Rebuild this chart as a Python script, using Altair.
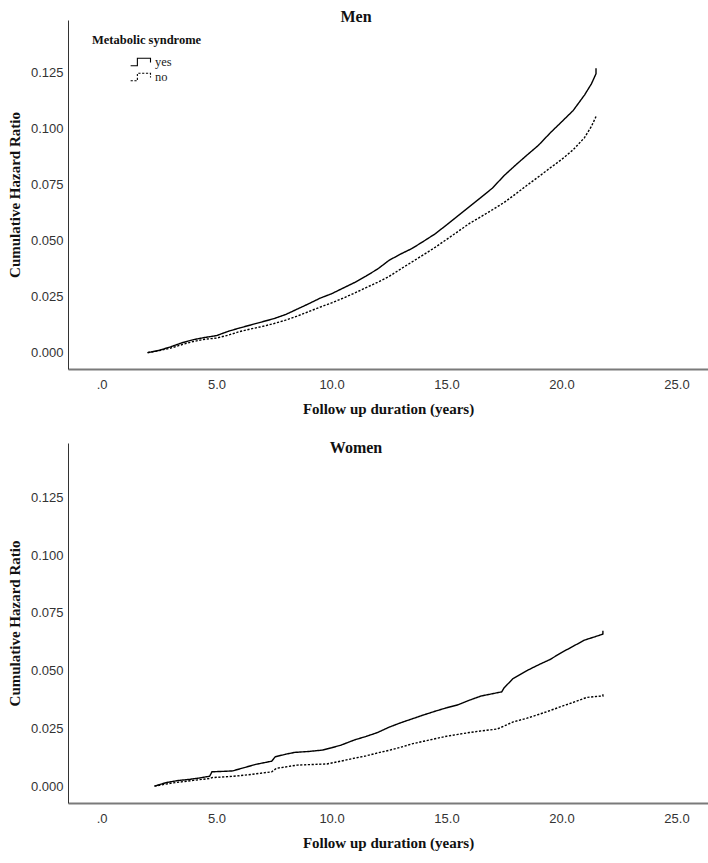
import altair as alt
import pandas as pd

# Cumulative hazard by follow-up time (years), men
men_yes_t = [2.0, 2.5, 3.0, 3.5, 4.0, 4.5, 5.0, 5.5, 6.0, 6.5, 7.0, 7.5, 8.0, 8.5, 9.0,
             9.5, 10.0, 10.5, 11.0, 11.5, 12.0, 12.5, 13.0, 13.5, 14.0, 14.5, 15.0, 15.5,
             16.0, 16.5, 17.0, 17.5, 18.0, 18.5, 19.0, 19.5, 20.0, 20.5, 21.0, 21.3, 21.5, 21.5]
men_yes_h = [0.0000, 0.0010, 0.0026, 0.0044, 0.0058, 0.0068, 0.0076, 0.0095, 0.0110, 0.0124,
             0.0138, 0.0152, 0.0170, 0.0194, 0.0218, 0.0243, 0.0263, 0.0288, 0.0313, 0.0342,
             0.0373, 0.0412, 0.0440, 0.0465, 0.0497, 0.0530, 0.0570, 0.0611, 0.0652, 0.0693,
             0.0735, 0.0790, 0.0837, 0.0882, 0.0926, 0.0980, 0.1030, 0.1080, 0.1150, 0.1200,
             0.1245, 0.1270]
men_no_t = [2.0, 2.5, 3.0, 3.5, 4.0, 4.5, 5.0, 5.5, 6.0, 6.5, 7.0, 7.5, 8.0, 8.5, 9.0,
            9.5, 10.0, 10.5, 11.0, 11.5, 12.0, 12.5, 13.0, 13.5, 14.0, 14.5, 15.0, 15.5,
            16.0, 16.5, 17.0, 17.5, 18.0, 18.5, 19.0, 19.5, 20.0, 20.5, 21.0, 21.3, 21.5]
men_no_h = [0.0000, 0.0009, 0.0020, 0.0036, 0.0050, 0.0060, 0.0065, 0.0078, 0.0094, 0.0106,
            0.0117, 0.0130, 0.0145, 0.0163, 0.0183, 0.0203, 0.0222, 0.0243, 0.0266, 0.0290,
            0.0314, 0.0340, 0.0373, 0.0405, 0.0437, 0.0470, 0.0505, 0.0541, 0.0577, 0.0607,
            0.0638, 0.0670, 0.0708, 0.0747, 0.0785, 0.0824, 0.0862, 0.0905, 0.0960, 0.1010,
            0.1054]

# Cumulative hazard by follow-up time (years), women
women_yes_t = [2.3, 2.8, 3.3, 3.8, 4.3, 4.7, 4.8, 5.3, 5.7, 6.2, 6.7, 7.2, 7.4, 7.55, 8.0,
               8.4, 9.0, 9.6, 10.0, 10.4, 11.0, 11.5, 12.0, 12.5, 13.0, 13.5, 14.0, 14.5,
               15.0, 15.5, 16.0, 16.5, 17.0, 17.4, 17.5, 17.9, 18.5, 19.0, 19.5, 20.0, 20.5,
               21.0, 21.5, 21.8, 21.8]
women_yes_h = [0.0000, 0.0015, 0.0024, 0.0029, 0.0036, 0.0043, 0.0062, 0.0064, 0.0066, 0.0080,
               0.0094, 0.0104, 0.0108, 0.0127, 0.0138, 0.0146, 0.0150, 0.0156, 0.0166, 0.0177,
               0.0200, 0.0215, 0.0232, 0.0255, 0.0274, 0.0291, 0.0308, 0.0324, 0.0339, 0.0352,
               0.0372, 0.0390, 0.0400, 0.0408, 0.0425, 0.0466, 0.0500, 0.0525, 0.0548, 0.0578,
               0.0605, 0.0632, 0.0648, 0.0658, 0.0672]
women_no_t = [2.3, 3.1, 4.0, 4.7, 4.8, 5.5, 6.0, 6.7, 7.4, 7.6, 8.0, 8.5, 9.0, 9.8, 10.4,
              11.0, 11.5, 12.1, 12.5, 13.0, 13.5, 14.0, 14.5, 15.0, 15.5, 16.0, 16.5, 17.2,
              17.5, 17.9, 18.5, 19.0, 19.5, 20.0, 20.5, 21.1, 21.5, 21.8, 21.8]
women_no_h = [0.0000, 0.0014, 0.0025, 0.0033, 0.0037, 0.0041, 0.0045, 0.0053, 0.0062, 0.0077,
              0.0083, 0.0091, 0.0093, 0.0096, 0.0108, 0.0121, 0.0131, 0.0146, 0.0155, 0.0168,
              0.0183, 0.0194, 0.0205, 0.0216, 0.0224, 0.0232, 0.0239, 0.0247, 0.0260, 0.0278,
              0.0294, 0.0310, 0.0327, 0.0345, 0.0362, 0.0384, 0.0388, 0.0390, 0.0400]

x_ticks = [0, 5, 10, 15, 20, 25]
y_ticks = [0.0, 0.025, 0.05, 0.075, 0.1, 0.125]
groups = ["yes", "no"]


def frame(yes_t, yes_h, no_t, no_h):
    rows = []
    for g, ts, hs in (("yes", yes_t, yes_h), ("no", no_t, no_h)):
        for i, (t, h) in enumerate(zip(ts, hs)):
            rows.append({"years": t, "hazard": h, "ms": g, "idx": i})
    return pd.DataFrame(rows)


SERIF = "Liberation Serif"
SANS = "Liberation Sans Narrow, Arial Narrow, Liberation Sans"
STEP = "M-1.45,0.5 L-0.55,0.5 L-0.55,-0.5 L1.2,-0.5 L1.2,0.05"


def panel(name, df, h, title_dy):
    return alt.Chart(df).mark_line(color="black", strokeWidth=1.4).encode(
        x=alt.X(
            "years:Q",
            scale=alt.Scale(domain=[-1.46, 26.37], nice=False, zero=False),
            axis=alt.Axis(
                values=x_ticks,
                labelExpr="datum.value == 0 ? '.0' : format(datum.value, '.1f')",
                title="Follow up duration (years)",
                ticks=False, grid=False,
                domainColor="#7a7a7a", domainWidth=2,
                labelFont=SANS, labelFontSize=13, labelColor="#333",
                labelPadding=9,
                titleFont=SERIF, titleFontSize=15, titleFontWeight="bold",
                titleColor="#111", titlePadding=10,
            ),
        ),
        y=alt.Y(
            "hazard:Q",
            scale=alt.Scale(domain=[-0.0073, 0.1485], nice=False, zero=False),
            axis=alt.Axis(
                values=y_ticks, format=".3f",
                title="Cumulative Hazard Ratio",
                ticks=False, grid=False,
                domainColor="#333", domainWidth=1,
                labelFont=SANS, labelFontSize=13, labelColor="#333",
                labelPadding=5,
                titleFont=SERIF, titleFontSize=15, titleFontWeight="bold",
                titleColor="#111", titlePadding=8,
            ),
        ),
        strokeDash=alt.StrokeDash(
            "ms:N",
            scale=alt.Scale(domain=groups, range=[[1, 0], [2.2, 1.6]]),
            legend=alt.Legend(
                title="Metabolic syndrome",
                orient="none", legendX=24, legendY=14,
                padding=0,
                titleFont=SERIF, titleFontSize=12.5, titleFontWeight="bold",
                titleColor="#111", titlePadding=7,
                labelFont=SERIF, labelFontSize=12.5, labelColor="#222",
                symbolType=STEP, symbolSize=225,
                symbolStrokeColor="black", symbolStrokeWidth=1.1,
                symbolFillColor="transparent",
                symbolOffset=41, labelOffset=5, rowPadding=0,
            ),
        ),
        order="idx:Q",
    ).properties(
        width=640, height=h,
        title=alt.TitleParams(
            name, font=SERIF, fontSize=16, fontWeight="bold", color="#111",
            anchor="middle", offset=0, dx=-32, dy=title_dy,
        ),
    )


men = panel("Men", frame(men_yes_t, men_yes_h, men_no_t, men_no_h), 349, 5)
women = panel("Women", frame(women_yes_t, women_yes_h, women_no_t, women_no_h), 360, 13)

chart = alt.vconcat(men, women, spacing=24).properties(
    padding={"left": 7, "top": 9, "right": 0, "bottom": 4},
    background="white",
).configure_view(stroke=None)

chart.save("out.html", embed_options={"renderer": "svg", "actions": False})
